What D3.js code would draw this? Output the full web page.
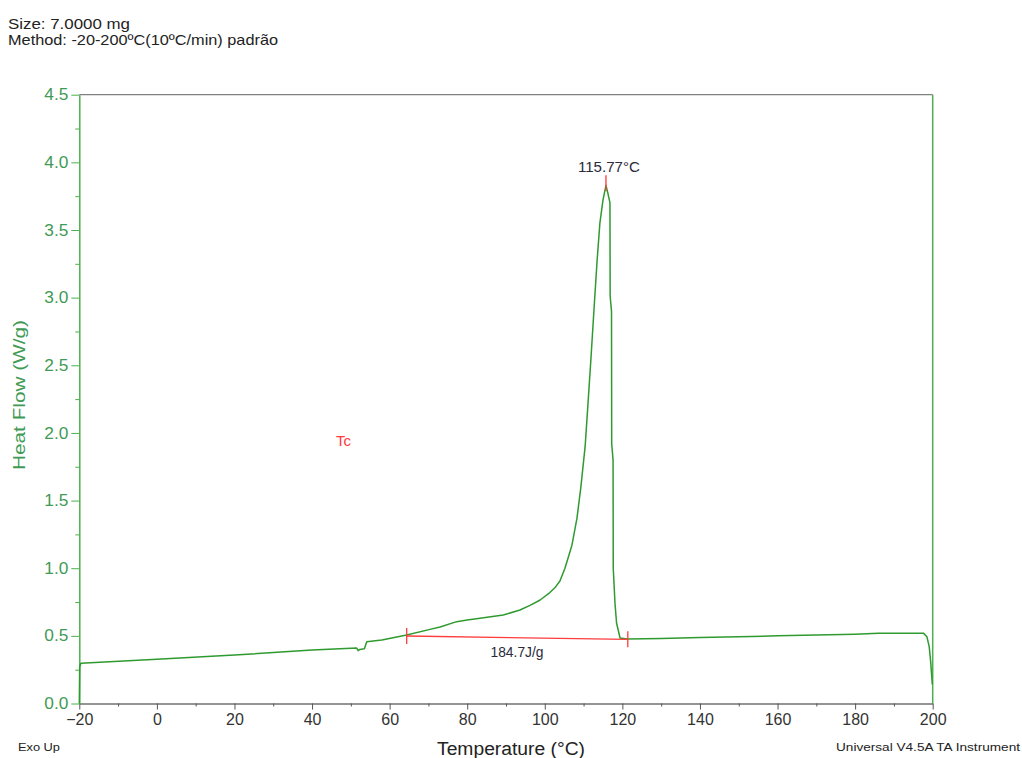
<!DOCTYPE html>
<html>
<head>
<meta charset="utf-8">
<script src="https://cdn.jsdelivr.net/npm/d3@7"></script>
<style>
  html, body { margin: 0; padding: 0; background: #fff; }
  svg { display: block; font-family: "Liberation Sans", Arial, sans-serif; }
</style>
</head>
<body>
<svg id="chart" width="1022" height="758"></svg>
<script>
// ---- data ----
const temperature = [-20, -19.9, -19.6, 0, 20, 40, 51.5, 51.9, 52.3, 53.5, 54.1, 58, 64.4, 70.4, 73.0, 77.3, 80, 83.3, 89.3, 93.6, 96.2, 98.8, 101.3, 102.6, 103.9, 105.2, 107.0, 108.3, 109.3, 110.4, 111.1, 111.9, 112.7, 113.5, 114.2, 115.0, 115.77, 116.2, 116.8, 116.85, 117.2, 117.25, 117.6, 117.65, 118.1, 118.5, 119.4, 121.2, 130, 140, 160, 180, 186, 195, 197.6, 198.5, 199.1, 199.5, 199.9];
const heatFlow    = [0.0, 0.27, 0.297, 0.327, 0.358, 0.395, 0.41, 0.39, 0.40, 0.405, 0.457, 0.47, 0.506, 0.548, 0.565, 0.605, 0.617, 0.63, 0.654, 0.691, 0.725, 0.765, 0.82, 0.855, 0.905, 1.0, 1.17, 1.37, 1.60, 1.90, 2.20, 2.55, 2.92, 3.28, 3.55, 3.72, 3.83, 3.78, 3.70, 3.01, 2.9, 1.92, 1.8, 1.0, 0.74, 0.595, 0.484, 0.476, 0.48, 0.487, 0.50, 0.512, 0.519, 0.52, 0.52, 0.494, 0.42, 0.30, 0.14];

const baselineTemp = [64.4, 121.4];
const baselineFlow = [0.499, 0.474];
const peakTemp = 115.77;
const peakFlow = 3.83;

const xMajorTicks = [-20, 0, 20, 40, 60, 80, 100, 120, 140, 160, 180, 200];
const xMinorTicks = [-10, 10, 30, 50, 70, 90, 110, 130, 150, 170, 190];
const yMajorTicks = [0.0, 0.5, 1.0, 1.5, 2.0, 2.5, 3.0, 3.5, 4.0, 4.5];
const yMinorTicks = [0.25, 0.75, 1.25, 1.75, 2.25, 2.75, 3.25, 3.75, 4.25];

const headerLines = ["Size:  7.0000 mg", "Method: -20-200ºC(10ºC/min) padrão"];
const peakLabel = "115.77°C";
const areaLabel = "184.7J/g";
const tcLabel = "Tc";

// ---- layout ----
const svg = d3.select("#chart");
const pLeft = 79.3, pRight = 932.7, pTop = 94.7, pBottom = 703.5;

const x = d3.scaleLinear().domain([-20, 200]).range([pLeft, pRight]);
const y = d3.scaleLinear().domain([0, 4.5]).range([pBottom, pTop]);

const green = "#4cb04c";
const curveGreen = "#2f9a2f";
const labelGreen = "#3f9a55";
const red = "#ff3b3b";
const FONT = "Liberation Sans, Arial, sans-serif";

// header
svg.append("text").attr("x", 8).attr("y", 29).attr("font-size", 15).attr("fill", "#222")
  .attr("textLength", 122).attr("lengthAdjust", "spacingAndGlyphs").text(headerLines[0]);
svg.append("text").attr("x", 8).attr("y", 45).attr("font-size", 15).attr("fill", "#222")
  .attr("textLength", 270).attr("lengthAdjust", "spacingAndGlyphs").text(headerLines[1]);

// top border
svg.append("line").attr("x1", pLeft).attr("x2", pRight).attr("y1", pTop).attr("y2", pTop)
  .attr("stroke", "#808080").attr("stroke-width", 1.2);
// right border
svg.append("line").attr("x1", pRight).attr("x2", pRight).attr("y1", pTop).attr("y2", pBottom)
  .attr("stroke", green).attr("stroke-width", 1.5);

// x axis
const xAxis = svg.append("g").attr("transform", `translate(0,${pBottom})`)
  .call(d3.axisBottom(x).tickValues(xMajorTicks).tickSize(6).tickSizeOuter(0).tickPadding(4).tickFormat(d3.format("d")));
xAxis.select(".domain").attr("stroke", "#707070").attr("stroke-width", 1.5);
xAxis.selectAll(".tick line").attr("stroke", "#555");
xAxis.selectAll(".tick text").attr("font-size", 16).attr("fill", "#333").attr("font-family", FONT);
svg.append("g").attr("transform", `translate(0,${pBottom})`)
  .call(d3.axisBottom(x).tickValues(xMinorTicks).tickSize(3).tickSizeOuter(0).tickFormat(""))
  .call(g => g.select(".domain").remove())
  .selectAll(".tick line").attr("stroke", "#555");

// y axis
const yAxis = svg.append("g").attr("transform", `translate(${pLeft},0)`)
  .call(d3.axisLeft(y).tickValues(yMajorTicks).tickSize(8).tickSizeOuter(0).tickPadding(3).tickFormat(d3.format(".1f")));
yAxis.select(".domain").attr("stroke", green).attr("stroke-width", 1.5);
yAxis.selectAll(".tick line").attr("stroke", green);
yAxis.selectAll(".tick text").attr("font-size", 16).attr("fill", labelGreen).attr("font-family", FONT)
  .attr("textLength", 24).attr("lengthAdjust", "spacingAndGlyphs");
svg.append("g").attr("transform", `translate(${pLeft},0)`)
  .call(d3.axisLeft(y).tickValues(yMinorTicks).tickSize(4).tickSizeOuter(0).tickFormat(""))
  .call(g => g.select(".domain").remove())
  .selectAll(".tick line").attr("stroke", green);

// axis titles
svg.append("text")
  .attr("transform", `translate(25,395) rotate(-90)`)
  .attr("text-anchor", "middle").attr("font-size", 17).attr("fill", labelGreen)
  .attr("textLength", 150).attr("lengthAdjust", "spacingAndGlyphs")
  .text("Heat Flow (W/g)");
svg.append("text")
  .attr("x", 511).attr("y", 755)
  .attr("text-anchor", "middle").attr("font-size", 18).attr("fill", "#222")
  .attr("textLength", 148).attr("lengthAdjust", "spacingAndGlyphs")
  .text("Temperature (°C)");
svg.append("text").attr("x", 18).attr("y", 751).attr("font-size", 11).attr("fill", "#222")
  .attr("textLength", 42).attr("lengthAdjust", "spacingAndGlyphs").text("Exo Up");
svg.append("text").attr("x", 836).attr("y", 751).attr("font-size", 11.5).attr("fill", "#222")
  .attr("textLength", 184).attr("lengthAdjust", "spacingAndGlyphs").text("Universal V4.5A TA Instrument");

// curve
const pts = temperature.map((t, i) => [t, heatFlow[i]]);
svg.append("path").datum(pts)
  .attr("fill", "none").attr("stroke", curveGreen).attr("stroke-width", 1.5)
  .attr("stroke-linejoin", "round")
  .attr("d", d3.line().x(d => x(d[0])).y(d => y(d[1])));

// baseline integration
svg.append("line")
  .attr("x1", x(baselineTemp[0])).attr("y1", y(baselineFlow[0]))
  .attr("x2", x(baselineTemp[1])).attr("y2", y(baselineFlow[1]))
  .attr("stroke", red).attr("stroke-width", 1.3);
baselineTemp.forEach((t, i) => {
  svg.append("line")
    .attr("x1", x(t)).attr("x2", x(t))
    .attr("y1", y(baselineFlow[i]) - 8).attr("y2", y(baselineFlow[i]) + 8)
    .attr("stroke", red).attr("stroke-width", 1.3);
});
// peak marker
svg.append("line")
  .attr("x1", x(peakTemp)).attr("x2", x(peakTemp))
  .attr("y1", y(peakFlow) - 10).attr("y2", y(peakFlow) + 6)
  .attr("stroke", red).attr("stroke-width", 1.3);

svg.append("text").attr("x", x(peakTemp) + 3).attr("y", 172)
  .attr("text-anchor", "middle").attr("font-size", 14).attr("fill", "#2a2a3a")
  .attr("textLength", 62).attr("lengthAdjust", "spacingAndGlyphs").text(peakLabel);
svg.append("text").attr("x", 517).attr("y", 657)
  .attr("text-anchor", "middle").attr("font-size", 14).attr("fill", "#2a2a3a")
  .attr("textLength", 53).attr("lengthAdjust", "spacingAndGlyphs").text(areaLabel);
svg.append("text").attr("x", 336).attr("y", 446)
  .attr("font-size", 15).attr("fill", red).text(tcLabel);
</script>
</body>
</html>
